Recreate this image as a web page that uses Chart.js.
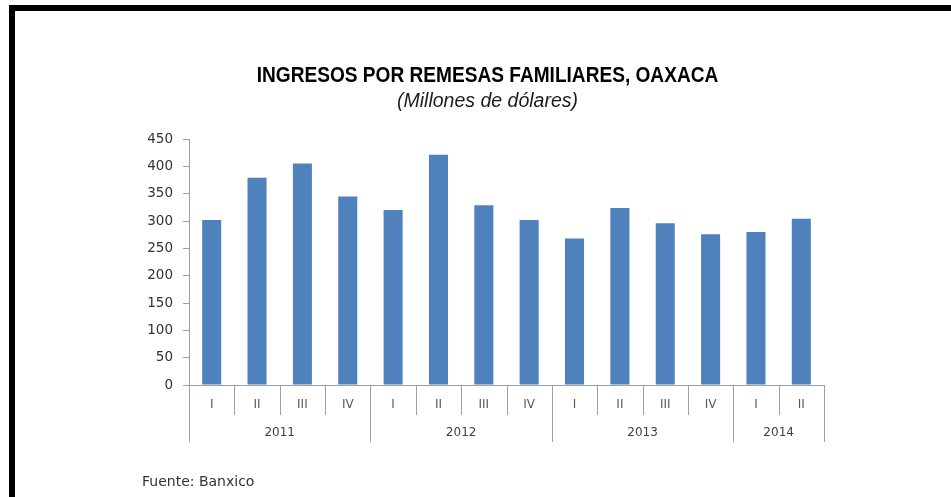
<!DOCTYPE html>
<html>
<head>
<meta charset="utf-8">
<script src="https://cdn.jsdelivr.net/npm/chart.js@4"></script>
<style>
  html,body{margin:0;padding:0;background:#fff;}
  #wrap{position:relative;width:951px;height:497px;overflow:hidden;}
  #frame{position:absolute;left:9px;top:5px;width:960px;height:510px;border-top:6px solid #000;border-left:6px solid #000;pointer-events:none;}
  canvas{position:absolute;left:0;top:0;}
</style>
</head>
<body>
<div id="wrap">
  <canvas id="chart" width="951" height="497"></canvas>
  <div id="frame"></div>
</div>
<script>
/* data */
const quarters = ['I','II','III','IV','I','II','III','IV','I','II','III','IV','I','II'];
const years = ['2011','2012','2013','2014'];
const quartersPerYear = [4,4,4,2];
const remesas = [302,379,405,345,320,421,329,302,268,324,296,276,280,304];
const yMax = 450;
const yStep = 50;

const titleText = 'INGRESOS POR REMESAS FAMILIARES, OAXACA';
const subtitleText = '(Millones de dólares)';
const sourceText = 'Fuente: Banxico';

const axisGray = '#a0a0a0';

/* titles, year row + separators under the quarter labels, source */
const yearAxis = {
  id:'yearAxis',
  afterDraw(chart){
    const ctx = chart.ctx;
    const x = chart.scales.x;
    const bottom = chart.chartArea.bottom;
    const mid = 487.5;

    ctx.save();
    // title (narrow face is not installed, so squeeze the bold one)
    ctx.fillStyle = '#000';
    ctx.textAlign = 'center';
    ctx.textBaseline = 'alphabetic';
    ctx.font = 'bold 22px "Liberation Sans"';
    ctx.save();
    ctx.translate(mid,82);
    ctx.scale(0.868,1);
    ctx.fillText(titleText,0,0);
    ctx.restore();

    ctx.fillStyle = '#1a1a1a';
    ctx.font = 'italic 19.5px "Liberation Sans"';
    ctx.fillText(subtitleText,mid,107);

    // separators
    const edges = [0];
    quartersPerYear.forEach(n=>edges.push(edges[edges.length-1]+n));

    ctx.strokeStyle = axisGray;
    ctx.lineWidth = 1;
    for(let i=0;i<=quarters.length;i++){
      const px = Math.round(x.getPixelForValue(i-0.5))+0.5;
      const len = edges.includes(i) ? 57 : 30;
      ctx.beginPath();
      ctx.moveTo(px,bottom);
      ctx.lineTo(px,bottom+len);
      ctx.stroke();
    }

    // year labels
    ctx.fillStyle = '#404040';
    ctx.font = '12px "DejaVu Sans"';
    ctx.textBaseline = 'middle';
    years.forEach((yr,k)=>{
      const cx = (x.getPixelForValue(edges[k]-0.5)+x.getPixelForValue(edges[k+1]-0.5))/2;
      ctx.fillText(yr,cx,bottom+48);
    });

    ctx.textAlign = 'left';
    ctx.fillStyle = '#333';
    ctx.font = '14px "DejaVu Sans"';
    ctx.fillText(sourceText,142,482);
    ctx.restore();
  }
};

new Chart(document.getElementById('chart'),{
  type:'bar',
  data:{
    labels:quarters,
    datasets:[{
      data:remesas,
      backgroundColor:'#4f81bd',
      borderWidth:0,
      barPercentage:0.42,
      categoryPercentage:1
    }]
  },
  options:{
    responsive:false,
    animation:false,
    layout:{padding:{top:139,left:0,right:127,bottom:80.5}},
    plugins:{
      legend:{display:false},
      tooltip:{enabled:false}
    },
    scales:{
      x:{
        grid:{display:false},
        border:{display:true,color:axisGray},
        ticks:{
          color:'#595959',
          padding:4.5,
          font:{family:'"DejaVu Sans"',size:12}
        }
      },
      y:{
        min:0,
        max:yMax,
        afterFit(scale){ scale.width = 189; },
        grid:{drawOnChartArea:false,drawTicks:true,tickLength:6,color:axisGray},
        border:{display:true,color:axisGray},
        ticks:{
          stepSize:yStep,
          color:'#333',
          padding:10,
          font:{family:'"DejaVu Sans"',size:13.5}
        }
      }
    }
  },
  plugins:[yearAxis]
});
</script>
</body>
</html>
